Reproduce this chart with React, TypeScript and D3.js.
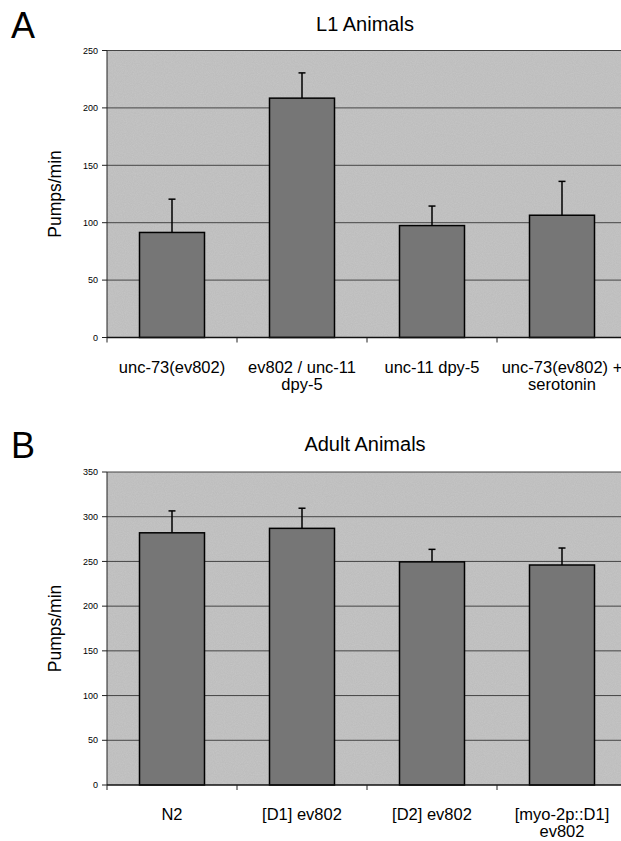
import React from 'react';
import * as d3 from 'd3';

// panel A - L1 animals
const l1Groups = ['unc-73(ev802)', 'ev802 / unc-11\ndpy-5', 'unc-11 dpy-5', 'unc-73(ev802) +\nserotonin'];
const l1Means = [91.5, 208.5, 97.5, 106.5];
const l1Err = [29, 22, 17, 29.5];
const l1Ticks = [0, 50, 100, 150, 200, 250];

// panel B - adult animals
const adultGroups = ['N2', '[D1] ev802', '[D2] ev802', '[myo-2p::D1]\nev802'];
const adultMeans = [282, 287, 249.5, 246];
const adultErr = [24.5, 22.5, 14, 19];
const adultTicks = [0, 50, 100, 150, 200, 250, 300, 350];

const FONT = '"Liberation Sans", Arial, Helvetica, sans-serif';

type PanelProps = {
    letter: string;
    title: string;
    groups: string[];
    means: number[];
    errs: number[];
    ticks: number[];
    top: number;
    bottom: number;
    letterY: number;
    titleY: number;
};

function Panel(p: PanelProps) {
    const left = 107;
    const band = 130;
    const yMax = p.ticks[p.ticks.length - 1];

    const x = d3.scaleBand<string>()
        .domain(p.groups)
        .range([left, left + band * p.groups.length])
        .paddingInner(0)
        .paddingOuter(0);

    const y = d3.scaleLinear()
        .domain([0, yMax])
        .range([p.bottom, p.top]);

    const barW = x.bandwidth() / 2;
    const right = left + band * p.groups.length;

    return (
        <g>
            <text x={11} y={p.letterY} fontSize={36} fontFamily={FONT}>{p.letter}</text>
            <text x={(left + right) / 2 - 2} y={p.titleY} fontSize={20} fontFamily={FONT} textAnchor="middle">{p.title}</text>

            {/* plot area */}
            <rect x={left} y={p.top} width={right - left} height={p.bottom - p.top} fill="#c6c6c6" filter="url(#grain)" />

            {/* gridlines */}
            {p.ticks.filter(t => t > 0).map(t => (
                <line key={t} x1={left} x2={right} y1={y(t)} y2={y(t)} stroke="#454545" strokeWidth={1} />
            ))}

            {/* y axis */}
            <line x1={left} x2={left} y1={p.top} y2={p.bottom} stroke="#222" strokeWidth={1} />
            {p.ticks.map(t => (
                <g key={'t' + t}>
                    <line x1={left - 5} x2={left} y1={y(t)} y2={y(t)} stroke="#222" />
                    <text x={left - 9} y={y(t) + 3.2} fontSize={9} fontFamily={FONT} textAnchor="end">{t}</text>
                </g>
            ))}
            <text
                transform={`translate(61, ${(p.top + p.bottom) / 2}) rotate(-90)`}
                fontSize={17.5}
                fontFamily={FONT}
                textAnchor="middle"
            >Pumps/min</text>

            {/* bars */}
            {p.groups.map((g, i) => {
                const cx = (x(g) as number) + x.bandwidth() / 2;
                const top = y(p.means[i]);
                const errTop = y(p.means[i] + p.errs[i]);
                return (
                    <g key={g}>
                        <line x1={cx} x2={cx} y1={top} y2={errTop} stroke="#000" strokeWidth={1.5} />
                        <line x1={cx - 3.5} x2={cx + 3.5} y1={errTop} y2={errTop} stroke="#000" strokeWidth={1.5} />
                        <rect x={cx - barW / 2} y={top} width={barW} height={p.bottom - top}
                              fill="#767676" stroke="#000" strokeWidth={1.5} />
                    </g>
                );
            })}

            {/* x axis */}
            <line x1={left} x2={right} y1={p.bottom} y2={p.bottom} stroke="#111" strokeWidth={1.5} />
            {d3.range(p.groups.length + 1).map(i => (
                <line key={'x' + i} x1={left + i * band} x2={left + i * band} y1={p.bottom} y2={p.bottom + 5} stroke="#222" />
            ))}
            {p.groups.map(g => {
                const cx = (x(g) as number) + x.bandwidth() / 2;
                return (
                    <text key={'l' + g} x={cx} y={p.bottom + 35} fontSize={16.5} fontFamily={FONT} textAnchor="middle">
                        {g.split('\n').map((line, k) => (
                            <tspan key={k} x={cx} dy={k === 0 ? 0 : 17}>{line}</tspan>
                        ))}
                    </text>
                );
            })}
        </g>
    );
}

export default function App() {
    return (
        <svg width={621} height={841} style={{ position: 'absolute', left: 0, top: 0, background: '#fff' }}>
            <defs>
                <filter id="grain" x="0" y="0" width="100%" height="100%">
                    <feTurbulence type="fractalNoise" baseFrequency="0.9" numOctaves={2} seed={3} result="n" />
                    <feColorMatrix in="n" type="matrix"
                                   values="0 0 0 0 0  0 0 0 0 0  0 0 0 0 0  0 0 0 0.12 0" result="a" />
                    <feComposite in="a" in2="SourceGraphic" operator="in" result="m" />
                    <feMerge>
                        <feMergeNode in="SourceGraphic" />
                        <feMergeNode in="m" />
                    </feMerge>
                </filter>
            </defs>
            <Panel letter="A" title="L1 Animals" groups={l1Groups} means={l1Means} errs={l1Err}
                   ticks={l1Ticks} top={50.5} bottom={337.5} letterY={38} titleY={31} />
            <Panel letter="B" title="Adult Animals" groups={adultGroups} means={adultMeans} errs={adultErr}
                   ticks={adultTicks} top={472} bottom={785} letterY={458} titleY={451} />
        </svg>
    );
}
